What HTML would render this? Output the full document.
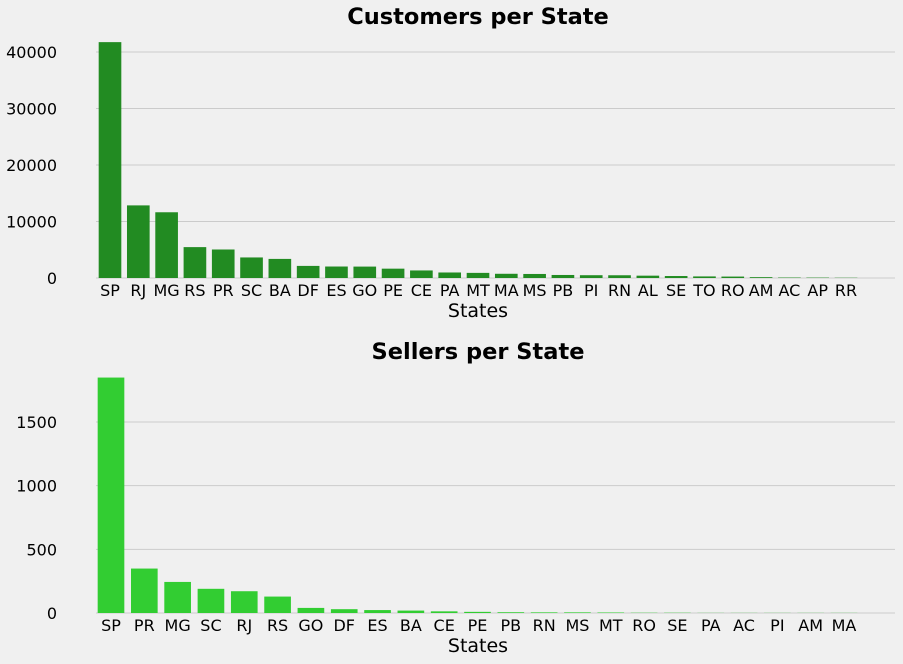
<!DOCTYPE html>
<html><head><meta charset="utf-8"><style>
html,body{margin:0;padding:0;background:#f0f0f0;}
svg{display:block;font-family:"DejaVu Sans","Liberation Sans",sans-serif;}
</style></head><body>
<svg id="c" width="903" height="664"></svg>
<script>
const custStates=["SP","RJ","MG","RS","PR","SC","BA","DF","ES","GO","PE","CE","PA","MT","MA","MS","PB","PI","RN","AL","SE","TO","RO","AM","AC","AP","RR"];
const custValues=[41746,12852,11635,5466,5045,3637,3380,2140,2033,2020,1652,1336,975,907,747,715,536,495,485,413,350,280,253,148,81,68,46];
const custTicks=[0,10000,20000,30000,40000];
const sellStates=["SP","PR","MG","SC","RJ","RS","GO","DF","ES","BA","CE","PE","PB","RN","MS","MT","RO","SE","PA","AC","PI","AM","MA"];
const sellValues=[1849,349,244,190,171,129,40,30,23,19,13,9,6,5,5,4,2,2,1,1,1,1,1];
const sellTicks=[0,500,1000,1500];
const NS="http://www.w3.org/2000/svg";
const svg=document.getElementById('c');
function mk(t,a,txt){const e=document.createElementNS(NS,t);for(const k in a)e.setAttribute(k,a[k]);if(txt!==undefined)e.textContent=txt;svg.appendChild(e);return e;}
function panel(p){
  const y=v=>p.y0-(v/p.vmax)*(p.y0-p.yTop);
  const step=(p.xLast-p.xFirst)/(p.cats.length-1);
  const x=i=>p.xFirst+i*step;
  p.ticks.forEach(t=>{
    const g=mk('line',{x1:96,x2:895,y1:y(t),y2:y(t),stroke:'#cbcbcb','stroke-width':1});
    
    
    const l=mk('text',{x:57,y:y(t)+6,'text-anchor':'end','font-size':16,fill:'#000'},t);
    
    
  });
  p.cats.forEach((c,i)=>{
    const v=p.vals[i];const w=step*0.8;
    const r=mk('rect',{x:x(i)-w/2,y:y(v),width:w,height:p.y0-y(v),fill:p.color});
    
    
    const l=mk('text',{x:x(i),y:p.y0+18,'text-anchor':'middle','font-size':16,fill:'#000'},c);
    
    
  });
  const t=mk('text',{x:478,y:p.titleY,'text-anchor':'middle','font-size':22.5,'font-weight':'bold',fill:'#000'},p.title);
  
  
  const xl=mk('text',{x:478,y:p.y0+39,'text-anchor':'middle','font-size':19,fill:'#000'},'States');
  
  
}
panel({id:'customers',cats:custStates,vals:custValues,ticks:custTicks,y0:278,yTop:52,vmax:40000,xFirst:110,xLast:846,color:'#228b22',title:'Customers per State',titleY:24});
panel({id:'sellers',cats:sellStates,vals:sellValues,ticks:sellTicks,y0:613,yTop:422,vmax:1500,xFirst:111,xLast:844,color:'#32cd32',title:'Sellers per State',titleY:359});
</script>
</body></html>
